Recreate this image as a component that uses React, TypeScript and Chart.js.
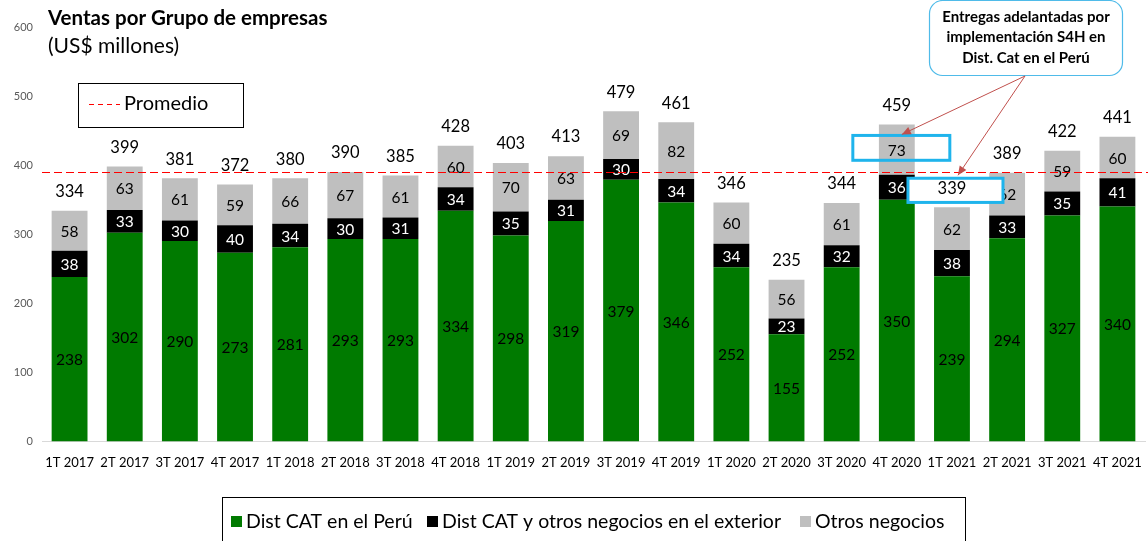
import React, { useEffect, useRef } from "react";
import { Chart, registerables } from "chart.js";

Chart.register(...registerables);

const categories = ["1T 2017", "2T 2017", "3T 2017", "4T 2017", "1T 2018", "2T 2018", "3T 2018", "4T 2018", "1T 2019", "2T 2019", "3T 2019", "4T 2019", "1T 2020", "2T 2020", "3T 2020", "4T 2020", "1T 2021", "2T 2021", "3T 2021", "4T 2021"];
const distPeru = [238, 302, 290, 273, 281, 293, 293, 334, 298, 319, 379, 346, 252, 155, 252, 350, 239, 294, 327, 340];
const distExterior = [38, 33, 30, 40, 34, 30, 31, 34, 35, 31, 30, 34, 34, 23, 32, 36, 38, 33, 35, 41];
const otrosNegocios = [58, 63, 61, 59, 66, 67, 61, 60, 70, 63, 69, 82, 60, 56, 61, 73, 62, 62, 59, 60];
const totals = [334, 399, 381, 372, 380, 390, 385, 428, 403, 413, 479, 461, 346, 235, 344, 459, 339, 389, 422, 441];
const promedio = 390;
const seriesNames = ["Dist CAT en el Perú", "Dist CAT y otros negocios en el exterior", "Otros negocios"];
const seriesColors = ["#007a00", "#000000", "#bfbfbf"];
const labelColors = ["#000000", "#ffffff", "#000000"];
const yTicks = [0, 100, 200, 300, 400, 500, 600];
const calloutLines = ["Entregas adelantadas por", "implementación S4H en", "Dist. Cat en el Perú"];
const highlight1 = { index: 15, from: 407, to: 443 };
const highlight2 = { index: 16, from: 346, to: 381 };

const FONT = "Lato, 'Liberation Sans', sans-serif";

const overlayPlugin = {
  id: "overlay",
  afterDatasetsDraw(chart: any) {
    const ctx = chart.ctx;
    const xs = chart.scales.x;
    const ys = chart.scales.y;
    ctx.save();
    // segment labels
    chart.data.datasets.forEach((ds: any, di: number) => {
      const meta = chart.getDatasetMeta(di);
      meta.data.forEach((bar: any, i: number) => {
        const v = ds.data[i];
        const cy = (bar.y + bar.base) / 2;
        ctx.font = `15.5px ${FONT}`;
        ctx.fillStyle = labelColors[di];
        ctx.textAlign = "center";
        ctx.textBaseline = "middle";
        ctx.fillText(String(v), bar.x, cy + 1);
      });
    });
    // average line
    const ay = Math.round(ys.getPixelForValue(promedio)) + 0.5;
    ctx.strokeStyle = "#ff0000";
    ctx.lineWidth = 1.2;
    ctx.setLineDash([8, 4]);
    ctx.beginPath();
    ctx.moveTo(chart.chartArea.left, ay);
    ctx.lineTo(chart.width, ay);
    ctx.stroke();
    ctx.setLineDash([]);

    // highlight box 1 (transparent)
    const bx1 = xs.getPixelForValue(highlight1.index);
    const t1 = ys.getPixelForValue(highlight1.to);
    const b1 = ys.getPixelForValue(highlight1.from);
    ctx.strokeStyle = "#1fb4ec";
    ctx.lineWidth = 3;
    ctx.strokeRect(bx1 - 44, t1, 97, b1 - t1);

    // highlight box 2 (white fill)
    const bx2 = xs.getPixelForValue(highlight2.index);
    const t2 = ys.getPixelForValue(highlight2.to);
    const b2 = ys.getPixelForValue(highlight2.from);
    ctx.fillStyle = "#ffffff";
    ctx.fillRect(bx2 - 44, t2, 95, b2 - t2);
    ctx.strokeRect(bx2 - 44, t2, 95, b2 - t2);

    // totals
    const meta2 = chart.getDatasetMeta(2);
    meta2.data.forEach((bar: any, i: number) => {
      ctx.font = `16.5px ${FONT}`;
      ctx.fillStyle = "#000";
      ctx.textAlign = "center";
      ctx.textBaseline = "middle";
      ctx.fillText(String(totals[i]), bar.x, bar.y - 19);
    });

    // callout
    const cx = 1026;
    ctx.fillStyle = "#ffffff";
    ctx.strokeStyle = "#4fbbe9";
    ctx.lineWidth = 1.2;
    ctx.beginPath();
    (ctx as any).roundRect(929.5, 0.5, 193, 75, 13);
    ctx.fill();
    ctx.stroke();
    ctx.font = `bold 15px ${FONT}`;
    ctx.fillStyle = "#000";
    ctx.textAlign = "center";
    calloutLines.forEach((l, k) => ctx.fillText(l, cx, 17 + k * 20.5));

    // arrows
    const arrow = (x0: number, y0: number, x1: number, y1: number) => {
      ctx.strokeStyle = "#c0504d";
      ctx.fillStyle = "#c0504d";
      ctx.lineWidth = 1;
      ctx.beginPath();
      ctx.moveTo(x0, y0);
      ctx.lineTo(x1, y1);
      ctx.stroke();
      const a = Math.atan2(y1 - y0, x1 - x0);
      const L = 9, W = 4;
      ctx.beginPath();
      ctx.moveTo(x1, y1);
      ctx.lineTo(x1 - L * Math.cos(a) + W * Math.sin(a), y1 - L * Math.sin(a) - W * Math.cos(a));
      ctx.lineTo(x1 - L * Math.cos(a) - W * Math.sin(a), y1 - L * Math.sin(a) + W * Math.cos(a));
      ctx.closePath();
      ctx.fill();
    };
    arrow(cx - 1, 76, bx1 + 5, t1 - 1);
    arrow(cx - 1, 76, bx2 + 6, t2 - 3);

    // title
    ctx.textAlign = "left";
    ctx.textBaseline = "middle";
    ctx.fillStyle = "#000";
    ctx.font = `bold 20.5px ${FONT}`;
    ctx.fillText("Ventas por Grupo de empresas", 48, 18);
    ctx.font = `21px ${FONT}`;
    ctx.fillText("(US$ millones)", 48, 46);

    // promedio box
    ctx.strokeStyle = "#000";
    ctx.lineWidth = 1;
    ctx.strokeRect(78.5, 83.5, 165, 44);
    ctx.strokeStyle = "#ff0000";
    ctx.setLineDash([5, 4]);
    ctx.beginPath();
    ctx.moveTo(89, 104.5);
    ctx.lineTo(120, 104.5);
    ctx.stroke();
    ctx.setLineDash([]);
    ctx.font = `20px ${FONT}`;
    ctx.fillStyle = "#000";
    ctx.fillText("Promedio", 124, 104);

    // bottom legend
    ctx.strokeStyle = "#000";
    ctx.strokeRect(222.5, 497.5, 743, 50);
    ctx.font = `19.5px ${FONT}`;
    const sqX = [231, 427, 800];
    const sq = 11;
    seriesNames.forEach((n, k) => {
      ctx.fillStyle = seriesColors[k];
      ctx.fillRect(sqX[k], 516, sq, sq);
      ctx.fillStyle = "#000";
      ctx.fillText(n, sqX[k] + sq + 4, 522);
    });
    ctx.restore();
  },
};

export default function App() {
  const ref = useRef<HTMLCanvasElement>(null);
  useEffect(() => {
    if (!ref.current) return;
    const chart = new Chart(ref.current, {
      type: "bar",
      data: {
        labels: categories,
        datasets: [
          { label: seriesNames[0], data: distPeru, backgroundColor: seriesColors[0] },
          { label: seriesNames[1], data: distExterior, backgroundColor: seriesColors[1] },
          { label: seriesNames[2], data: otrosNegocios, backgroundColor: seriesColors[2] },
        ],
      },
      options: {
        responsive: false,
        animation: false,
        events: [],
        layout: { padding: { top: 27, left: 4, right: 3, bottom: 64 } },
        datasets: { bar: { barPercentage: 0.65, categoryPercentage: 1 } },
        plugins: { legend: { display: false }, tooltip: { enabled: false }, title: { display: false } },
        scales: {
          x: {
            stacked: true,
            grid: { display: false },
            border: { color: "#d9d9d9", width: 1 },
            ticks: { color: "#000", font: { family: FONT, size: 13 }, maxRotation: 0, autoSkip: false, padding: 6 },
          },
          y: {
            stacked: true,
            min: 0,
            max: 600,
            afterBuildTicks: (axis: any) => {
              axis.ticks = yTicks.map((v) => ({ value: v }));
            },
            afterFit: (axis: any) => {
              axis.width = 38;
            },
            grid: { display: false },
            border: { display: false },
            ticks: { color: "#595959", font: { family: FONT, size: 11 }, padding: 1 },
          },
        },
      },
      plugins: [overlayPlugin],
    });
    return () => chart.destroy();
  }, []);
  return (
    <div style={{ position: "absolute", left: 0, top: 0, width: 1148, height: 541, background: "#fff" }}>
      <canvas ref={ref} width={1148} height={541} />
    </div>
  );
}
